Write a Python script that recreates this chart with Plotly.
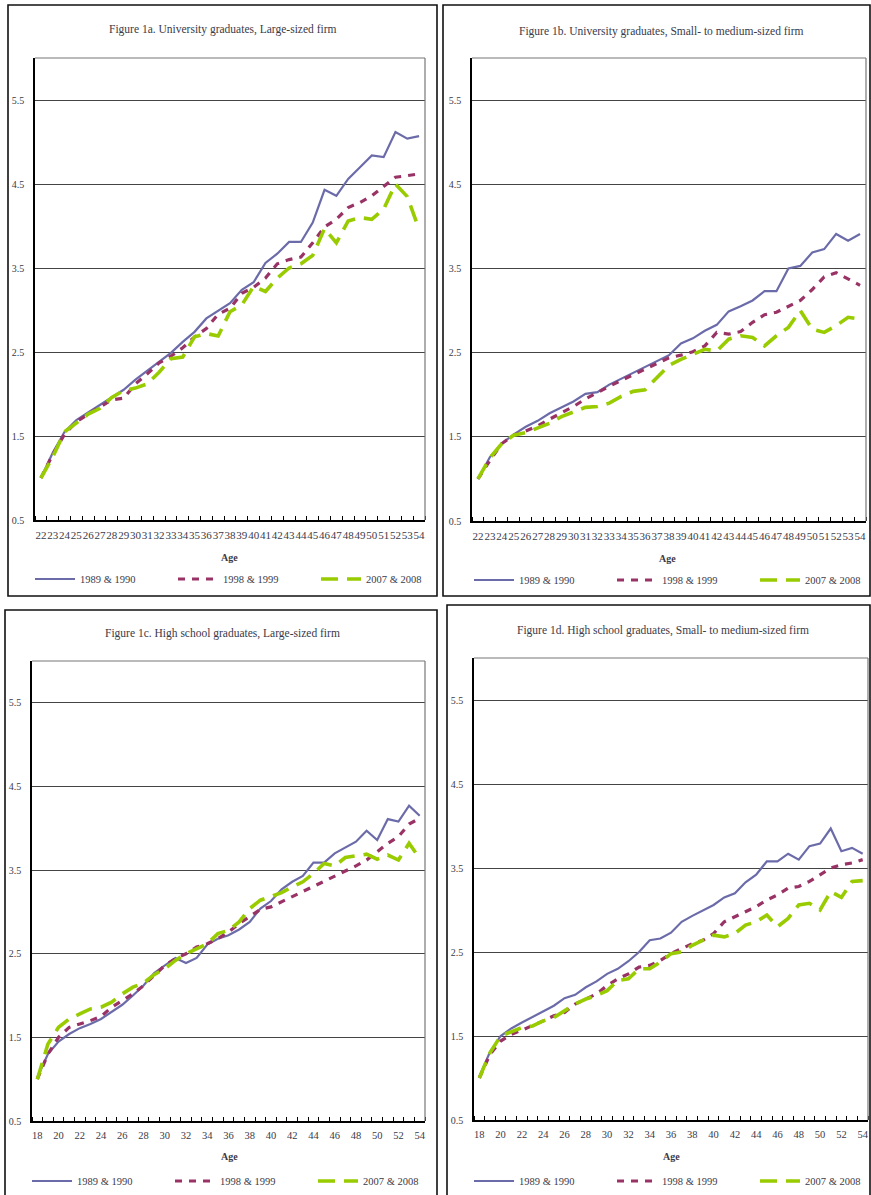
import plotly.graph_objects as go

ages_uni = list(range(22, 55))
ages_hs = list(range(18, 55))

series_names = ["1989 & 1990", "1998 & 1999", "2007 & 2008"]

uni_large_1989 = [1.0, 1.3, 1.55, 1.69, 1.78, 1.87, 1.96, 2.05, 2.17, 2.28, 2.39, 2.49, 2.62, 2.74, 2.9, 2.99, 3.08,
                  3.24, 3.33, 3.56, 3.67, 3.81, 3.81, 4.04, 4.43, 4.36, 4.56, 4.7, 4.84, 4.82, 5.12, 5.04, 5.07]
uni_large_1998 = [1.0, 1.28, 1.52, 1.67, 1.76, 1.85, 1.93, 1.95, 2.12, 2.24, 2.37, 2.45, 2.55, 2.68, 2.78, 2.95, 3.02,
                  3.2, 3.27, 3.38, 3.55, 3.6, 3.63, 3.8, 3.99, 4.08, 4.22, 4.28, 4.36, 4.47, 4.58, 4.6, 4.62]
uni_large_2007 = [1.0, 1.25, 1.55, 1.66, 1.76, 1.83, 1.96, 2.04, 2.07, 2.12, 2.26, 2.42, 2.44, 2.68, 2.72, 2.69, 2.98,
                  3.06, 3.28, 3.22, 3.38, 3.5, 3.55, 3.65, 3.97, 3.8, 4.06, 4.1, 4.08, 4.2, 4.5, 4.35, 3.96]

uni_small_1989 = [1.0, 1.26, 1.42, 1.53, 1.62, 1.69, 1.78, 1.85, 1.92, 2.01, 2.03, 2.12, 2.19, 2.26, 2.33, 2.4, 2.47,
                  2.61, 2.67, 2.76, 2.83, 2.99, 3.05, 3.12, 3.23, 3.23, 3.5, 3.53, 3.69, 3.73, 3.91, 3.83, 3.91]
uni_small_1998 = [1.0, 1.22, 1.42, 1.52, 1.57, 1.63, 1.71, 1.78, 1.86, 1.95, 2.03, 2.1, 2.17, 2.24, 2.3, 2.38, 2.44,
                  2.47, 2.51, 2.58, 2.74, 2.72, 2.75, 2.86, 2.95, 2.98, 3.05, 3.12, 3.25, 3.4, 3.45, 3.38, 3.3]
uni_small_2007 = [1.0, 1.25, 1.42, 1.52, 1.55, 1.6, 1.66, 1.74, 1.8, 1.85, 1.86, 1.9, 1.98, 2.04, 2.06, 2.2, 2.35,
                  2.42, 2.48, 2.54, 2.52, 2.66, 2.7, 2.68, 2.58, 2.7, 2.8, 3.0, 2.78, 2.74, 2.82, 2.92, 2.9]

hs_large_1989 = [1.02, 1.3, 1.45, 1.54, 1.61, 1.66, 1.72, 1.8, 1.89, 2.0, 2.12, 2.27, 2.36, 2.45, 2.39, 2.45, 2.61,
                 2.68, 2.72, 2.79, 2.88, 3.04, 3.13, 3.27, 3.36, 3.43, 3.59, 3.59, 3.7, 3.77, 3.84, 3.97, 3.86, 4.11,
                 4.08, 4.27, 4.15]
hs_large_1998 = [1.0, 1.3, 1.5, 1.62, 1.66, 1.7, 1.75, 1.86, 1.94, 2.02, 2.12, 2.24, 2.36, 2.44, 2.5, 2.58, 2.62,
                 2.68, 2.76, 2.86, 2.95, 3.03, 3.06, 3.12, 3.18, 3.25, 3.3, 3.36, 3.42, 3.49, 3.55, 3.62, 3.72, 3.82,
                 3.9, 4.05, 4.12]
hs_large_2007 = [1.0, 1.42, 1.62, 1.72, 1.78, 1.84, 1.86, 1.92, 2.02, 2.1, 2.15, 2.25, 2.32, 2.42, 2.5, 2.56, 2.62,
                 2.74, 2.78, 2.88, 3.04, 3.14, 3.18, 3.23, 3.3, 3.36, 3.46, 3.58, 3.55, 3.65, 3.67, 3.69, 3.63, 3.68,
                 3.62, 3.82, 3.64]

hs_small_1989 = [1.02, 1.31, 1.5, 1.59, 1.66, 1.73, 1.79, 1.86, 1.95, 1.99, 2.08, 2.15, 2.24, 2.3, 2.39, 2.5, 2.64,
                 2.66, 2.73, 2.86, 2.93, 3.0, 3.06, 3.15, 3.2, 3.33, 3.42, 3.58, 3.58, 3.67, 3.6, 3.76, 3.79, 3.97,
                 3.7, 3.74, 3.67]
hs_small_1998 = [1.0, 1.28, 1.44, 1.52, 1.57, 1.62, 1.68, 1.74, 1.78, 1.88, 1.94, 2.0, 2.1, 2.18, 2.24, 2.32, 2.34,
                 2.4, 2.48, 2.54, 2.6, 2.64, 2.72, 2.86, 2.92, 2.98, 3.04, 3.12, 3.18, 3.26, 3.28, 3.34, 3.42, 3.5,
                 3.54, 3.56, 3.6]
hs_small_2007 = [1.0, 1.3, 1.5, 1.55, 1.6, 1.62, 1.68, 1.72, 1.8, 1.88, 1.94, 1.98, 2.04, 2.16, 2.18, 2.3, 2.3,
                 2.38, 2.48, 2.5, 2.58, 2.64, 2.7, 2.68, 2.72, 2.82, 2.86, 2.94, 2.8, 2.9, 3.06, 3.08, 3.0, 3.22,
                 3.15, 3.34, 3.35]

titles = [
    "Figure 1a. University graduates, Large-sized firm",
    "Figure 1b. University graduates, Small- to medium-sized firm",
    "Figure 1c. High school graduates, Large-sized firm",
    "Figure 1d. High school graduates, Small- to medium-sized firm",
]
y_ticks = [0.5, 1.5, 2.5, 3.5, 4.5, 5.5]
y_tick_text = ["0.5", "1.5", "2.5", "3.5", "4.5", "5.5"]

W, H = 871, 1195
FONT = "Liberation Serif"
TXT = "#3a3a48"
colors = ["#6b6baa", "#993366", "#99cc00"]
widths = [2.2, 3.2, 3.6]
dashes = ["solid", "7px,7px", "17px,9px"]

panels = [
    dict(ages=ages_uni, data=[uni_large_1989, uni_large_1998, uni_large_2007],
         plot=(35, 425, 58, 520), box=(8, 437, 5, 596), title_xy=(223, 30), age_xy=(229, 557), leg=(30, 579)),
    dict(ages=ages_uni, data=[uni_small_1989, uni_small_1998, uni_small_2007],
         plot=(472, 866, 58, 521), box=(443, 870, 5, 596), title_xy=(661, 32), age_xy=(667, 558), leg=(469, 580)),
    dict(ages=ages_hs, data=[hs_large_1989, hs_large_1998, hs_large_2007],
         plot=(32, 425, 661, 1121), box=(5, 437, 610, 1196), title_xy=(222, 633), age_xy=(229, 1156), leg=(27, 1181)),
    dict(ages=ages_hs, data=[hs_small_1989, hs_small_1998, hs_small_2007],
         plot=(474, 868, 658, 1120), box=(447, 870, 605, 1196), title_xy=(663, 631), age_xy=(671, 1156), leg=(469, 1181)),
]

fig = go.Figure()
shapes = []
annotations = []
layout_extra = {}

for i, p in enumerate(panels):
    n = "" if i == 0 else str(i + 1)
    xa, ya = "x" + n, "y" + n
    leg = "legend" if i == 0 else "legend" + str(i + 1)
    for k in range(3):
        fig.add_trace(go.Scatter(
            x=p["ages"], y=p["data"][k], mode="lines", name=series_names[k],
            line=dict(color=colors[k], width=widths[k], dash=dashes[k]),
            xaxis=xa, yaxis=ya, legend=leg, showlegend=True))
    x0, x1, y0, y1 = p["plot"]
    ages = p["ages"]
    if ages[0] == 22:
        tv = ages
        xfs = 11
    else:
        tv = [a for a in ages if a % 2 == 0]
        xfs = 10.5
    layout_extra["xaxis" + n] = dict(
        domain=[x0 / W, x1 / W], anchor=ya, range=[ages[0] - 0.5, ages[-1] + 0.5],
        tickmode="array", tickvals=tv, ticktext=[str(a) for a in tv], ticks="", tickangle=0,
        tickfont=dict(family=FONT, size=xfs, color=TXT), showgrid=False, zeroline=False,
        showline=True, linecolor="#000000", linewidth=1.5, mirror=False, ticklabelstandoff=4,
        minor=dict(ticks="inside", tick0=ages[0] - 0.5, dtick=1, ticklen=4, tickcolor="#000000",
                   tickwidth=1.2, showgrid=False),
        fixedrange=True)
    layout_extra["yaxis" + n] = dict(
        domain=[1 - y1 / H, 1 - y0 / H], anchor=xa, range=[0.5, 6.0],
        tickmode="array", tickvals=y_ticks, ticktext=y_tick_text, ticks="",
        tickfont=dict(family=FONT, size=10, color=TXT), showgrid=True, gridcolor="#444444", gridwidth=1,
        zeroline=False, showline=True, linecolor="#000000", linewidth=1.5, ticklabelstandoff=7,
        fixedrange=True)
    shapes.append(dict(type="line", xref="paper", yref="paper", x0=x0 / W, x1=x1 / W, y0=1 - y0 / H, y1=1 - y0 / H,
                       line=dict(color="#777777", width=1.2)))
    shapes.append(dict(type="line", xref="paper", yref="paper", x0=x1 / W, x1=x1 / W, y0=1 - y0 / H, y1=1 - y1 / H,
                       line=dict(color="#777777", width=1.2)))
    bx0, bx1, by0, by1 = p["box"]
    shapes.append(dict(type="rect", xref="paper", yref="paper", x0=bx0 / W, x1=bx1 / W, y0=1 - by1 / H, y1=1 - by0 / H,
                       line=dict(color="#111111", width=1.6), fillcolor="rgba(0,0,0,0)", layer="below"))
    tx, ty = p["title_xy"]
    annotations.append(dict(text=titles[i], x=tx / W, y=1 - ty / H, xref="paper", yref="paper", showarrow=False,
                            xanchor="center", yanchor="middle", font=dict(family=FONT, size=11.5, color=TXT)))
    axx, axy = p["age_xy"]
    annotations.append(dict(text="<b>Age</b>", x=axx / W, y=1 - axy / H, xref="paper", yref="paper", showarrow=False,
                            xanchor="center", yanchor="middle", font=dict(family=FONT, size=10, color=TXT)))
    lx, ly = p["leg"]
    layout_extra[leg] = dict(orientation="h", x=lx / W, y=1 - ly / H, xanchor="left", yanchor="middle",
                             entrywidth=88, entrywidthmode="pixels", itemwidth=40, tracegroupgap=0,
                             font=dict(family=FONT, size=10.5, color=TXT), bgcolor="rgba(0,0,0,0)",
                             borderwidth=0, itemclick=False, itemdoubleclick=False)

fig.update_layout(
    width=W, height=H, margin=dict(l=0, r=0, t=0, b=0, autoexpand=False),
    paper_bgcolor="#ffffff", plot_bgcolor="#ffffff",
    shapes=shapes, annotations=annotations, **layout_extra)

fig.write_html("out.html", config={"displayModeBar": False},
               post_script="document.body.style.margin='0';document.body.style.overflow='hidden';")
